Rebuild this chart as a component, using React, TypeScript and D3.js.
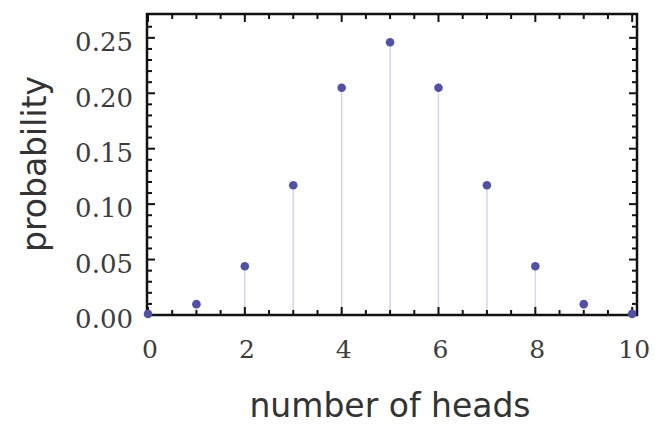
import * as d3 from "d3";

// number of heads in 10 coin flips
const heads = [0, 1, 2, 3, 4, 5, 6, 7, 8, 9, 10];
const probability = [0.001, 0.0098, 0.044, 0.117, 0.205, 0.246, 0.205, 0.117, 0.044, 0.0098, 0.001];

const xTickLabels = [0, 2, 4, 6, 8, 10];
const yTickLabels = [0, 0.05, 0.1, 0.15, 0.2, 0.25];

const W = 656;
const H = 432;
const frame = { left: 147, right: 637, top: 14, bottom: 315 };

export default function App() {
  const x = d3.scaleLinear().domain([0, 10.1]).range([frame.left + 1, frame.right]);
  const y = d3.scaleLinear().domain([0, 0.2715]).range([frame.bottom, frame.top]);

  const xMinor = d3.range(0, 10.01, 0.5).filter((v) => !xTickLabels.includes(v));
  const yMinor = d3
    .range(0, 27)
    .map((i) => i / 100)
    .filter((v) => Math.round(v * 100) % 5 !== 0);

  const serif = "'DejaVu Serif', serif";
  const sans = "'DejaVu Sans', sans-serif";

  return (
    <svg
      width={W}
      height={H}
      style={{ position: "absolute", left: 0, top: 0, background: "#fff" }}
    >
      {/* stems */}
      {heads.map((h, i) => (
        <line
          key={"s" + h}
          x1={x(h)}
          x2={x(h)}
          y1={y(0)}
          y2={y(probability[i])}
          stroke="#d4d4f2"
          strokeWidth={1.5}
        />
      ))}

      {/* bottom / top ticks */}
      {xTickLabels.map((v) => (
        <g key={"xt" + v}>
          <line x1={x(v)} x2={x(v)} y1={frame.bottom} y2={frame.bottom - 8} stroke="#111" strokeWidth={2} />
          <line x1={x(v)} x2={x(v)} y1={frame.top} y2={frame.top + 8} stroke="#111" strokeWidth={2} />
        </g>
      ))}
      {xMinor.map((v) => (
        <g key={"xm" + v}>
          <line x1={x(v)} x2={x(v)} y1={frame.bottom} y2={frame.bottom - 5} stroke="#111" strokeWidth={2} />
          <line x1={x(v)} x2={x(v)} y1={frame.top} y2={frame.top + 5} stroke="#111" strokeWidth={2} />
        </g>
      ))}

      {/* left / right ticks */}
      {yTickLabels.map((v) => (
        <g key={"yt" + v}>
          <line x1={frame.left} x2={frame.left + 8} y1={y(v)} y2={y(v)} stroke="#111" strokeWidth={2} />
          <line x1={frame.right} x2={frame.right - 8} y1={y(v)} y2={y(v)} stroke="#111" strokeWidth={2} />
        </g>
      ))}
      {yMinor.map((v) => (
        <g key={"ym" + v}>
          <line x1={frame.left} x2={frame.left + 5} y1={y(v)} y2={y(v)} stroke="#111" strokeWidth={2} />
          <line x1={frame.right} x2={frame.right - 5} y1={y(v)} y2={y(v)} stroke="#111" strokeWidth={2} />
        </g>
      ))}

      {/* frame */}
      <rect
        x={frame.left}
        y={frame.top}
        width={frame.right - frame.left}
        height={frame.bottom - frame.top}
        fill="none"
        stroke="#111"
        strokeWidth={2.5}
      />

      {/* points */}
      {heads.map((h, i) => (
        <circle key={"p" + h} cx={x(h)} cy={y(probability[i])} r={4.3} fill="#5252a4" />
      ))}

      {/* tick labels */}
      {xTickLabels.map((v) => (
        <text
          key={"xl" + v}
          x={x(v) + 2}
          y={358}
          textAnchor="middle"
          fontFamily={serif}
          fontSize={25}
          fill="#3d3d3d"
        >
          {v}
        </text>
      ))}
      {yTickLabels.map((v) => (
        <text
          key={"yl" + v}
          x={frame.left - 14}
          y={y(v) + 4}
          dy="0.36em"
          textAnchor="end"
          fontFamily={serif}
          fontSize={26}
          fill="#3d3d3d"
        >
          {d3.format(".2f")(v)}
        </text>
      ))}

      {/* axis titles */}
      <text
        x={390}
        y={417}
        textAnchor="middle"
        fontFamily={sans}
        fontSize={33}
        fill="#333"
      >
        number of heads
      </text>
      <text
        transform="translate(46,164) rotate(-90)"
        textAnchor="middle"
        fontFamily={sans}
        fontSize={33}
        fill="#333"
      >
        probability
      </text>
    </svg>
  );
}
